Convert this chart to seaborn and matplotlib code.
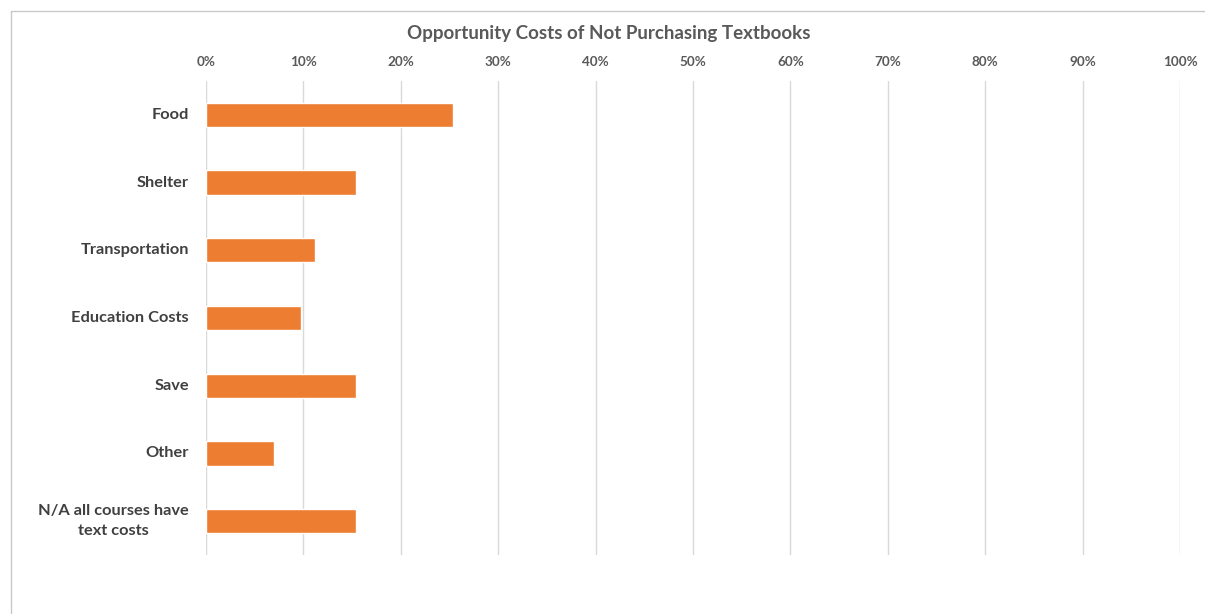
import matplotlib
matplotlib.use("Agg")
import matplotlib.pyplot as plt
import matplotlib.transforms as mtransforms
import seaborn as sns
import pandas as pd

categories = ["Food", "Shelter", "Transportation", "Education Costs", "Save", "Other",
              "N/A all courses have\ntext costs"]
values = [25.4, 15.4, 11.2, 9.8, 15.4, 7.0, 15.4]
tick_values = [0, 10, 20, 30, 40, 50, 60, 70, 80, 90, 100]
tick_labels = [f"{t}%" for t in tick_values]
title = "Opportunity Costs of Not Purchasing Textbooks"

sns.set_theme(style="white")
plt.rcParams['font.family'] = ['Lato', 'DejaVu Sans']

df = pd.DataFrame({"category": categories, "value": values})

fig = plt.figure(figsize=(12.05, 6.14), dpi=100)
ax = fig.add_axes([206/1205, 1 - 555/614, (1180-206)/1205, (555-81)/614])

sns.barplot(data=df, x="value", y="category", color="#ED7D31", width=0.36,
            saturation=1, ax=ax, zorder=3)

ax.set_xlim(0, 100)
ax.set_xticks(tick_values)
ax.set_xticklabels(tick_labels)
ax.xaxis.tick_top()
ax.tick_params(axis="x", length=0, pad=9, labelsize=9.7, labelcolor="#595959")
for lbl in ax.get_xticklabels():
    lbl.set_fontweight("bold")
ax.set_xlabel("")
ax.set_ylabel("")
ax.grid(axis="x", color="#D9D9D9", linewidth=1, zorder=0)
ax.grid(axis="y", visible=False)
for s in ax.spines.values():
    s.set_visible(False)

# category labels, right-aligned in left margin, multi-line centred
trans = mtransforms.blended_transform_factory(fig.transFigure, ax.transData)
ax.set_yticks(range(len(categories)))
ax.set_yticklabels([])
ax.tick_params(axis="y", length=0)
for i, t in enumerate(categories):
    ax.text(189/1205, i, t, transform=trans, ha="right", va="center",
            multialignment="center", fontsize=11.8, fontweight="bold",
            color="#404040", linespacing=1.55)

fig.text(609/1205, 1 - 33/614, title, ha="center", va="center",
         fontsize=13.5, fontweight="bold", color="#595959")

# chart frame (partial border)
fig.add_artist(plt.Line2D([11/1205, 1], [1 - 11/614, 1 - 11/614],
                          transform=fig.transFigure, color="#C8C8C8", linewidth=1))
fig.add_artist(plt.Line2D([11/1205, 11/1205], [0, 1 - 11/614],
                          transform=fig.transFigure, color="#C8C8C8", linewidth=1))

fig.savefig("out.png", dpi=100, facecolor="white")
